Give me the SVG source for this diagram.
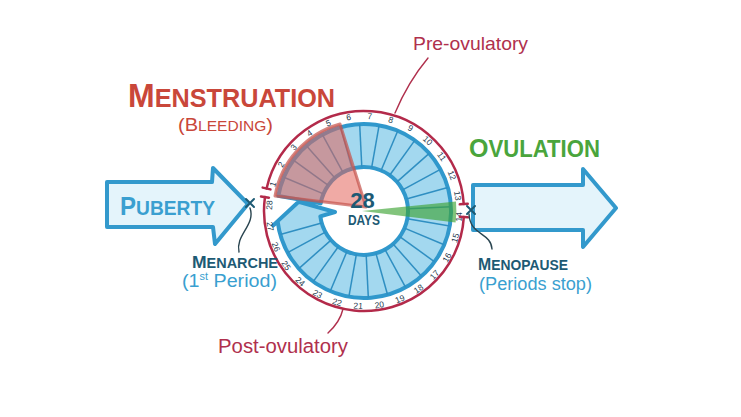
<svg xmlns="http://www.w3.org/2000/svg" width="741" height="417" viewBox="0 0 741 417">
<style>
.band{fill:#a3d8ef;stroke:#3098cc;stroke-width:4;stroke-linejoin:round}
.sep{stroke:#2f8fc2;stroke-width:1.5}
.num{font-family:"Liberation Sans",Arial,sans-serif;font-size:8.5px;fill:#1f3b4f;text-anchor:middle;dominant-baseline:central}
.redarc{fill:none;stroke:#b32a4a;stroke-width:2.5;stroke-linecap:round}
.arrow{fill:#e4f4fb;stroke:#3399cc;stroke-width:4;stroke-linejoin:round}
.lbl{font-family:"Liberation Sans",Arial,sans-serif}
.hd{font-weight:bold}
.lead{fill:none;stroke-width:1.4;stroke-linecap:round}
.xm{stroke:#1d5a74;stroke-width:2;stroke-linecap:round}
</style>
<rect width="741" height="417" fill="#ffffff"/>

<g id="puberty-arrow">
<path class="arrow" d="M107 182 L212 182 L213 168 L248 204 L215 244 L213 227 L107 227 Z"/>
<text class="lbl hd" x="120" y="215" fill="#3a9fd0" textLength="95" lengthAdjust="spacingAndGlyphs"><tspan font-size="25">P</tspan><tspan font-size="20">UBERTY</tspan></text>
</g>

<g id="menopause-arrow">
<path class="arrow" d="M473 185 L583 185 L583 169 L616 208 L583 247 L583 230 L473 230 Z"/>
</g>

<g id="cycle-ring">
<path class="band" d="M278.32 195.90 A87 87 0 1 1 277.65 221.60 L273.13 225.39 L298.64 201.81 L335.02 212.01 L320.33 216.36 A44 44 0 1 0 320.67 203.36 Z"/>
<g class="sep">
<line x1="408" y1="211" x2="451" y2="211" transform="rotate(202.857 364 211)"/>
<line x1="408" y1="211" x2="451" y2="211" transform="rotate(215.714 364 211)"/>
<line x1="408" y1="211" x2="451" y2="211" transform="rotate(228.571 364 211)"/>
<line x1="408" y1="211" x2="451" y2="211" transform="rotate(241.429 364 211)"/>
<line x1="408" y1="211" x2="451" y2="211" transform="rotate(254.286 364 211)"/>
<line x1="408" y1="211" x2="451" y2="211" transform="rotate(267.143 364 211)"/>
<line x1="408" y1="211" x2="451" y2="211" transform="rotate(280 364 211)"/>
<line x1="408" y1="211" x2="451" y2="211" transform="rotate(292.857 364 211)"/>
<line x1="408" y1="211" x2="451" y2="211" transform="rotate(305.714 364 211)"/>
<line x1="408" y1="211" x2="451" y2="211" transform="rotate(318.571 364 211)"/>
<line x1="408" y1="211" x2="451" y2="211" transform="rotate(331.429 364 211)"/>
<line x1="408" y1="211" x2="451" y2="211" transform="rotate(344.286 364 211)"/>
<line x1="408" y1="211" x2="451" y2="211" transform="rotate(357.143 364 211)"/>
<line x1="408" y1="211" x2="451" y2="211" transform="rotate(10 364 211)"/>
<line x1="408" y1="211" x2="451" y2="211" transform="rotate(22.857 364 211)"/>
<line x1="408" y1="211" x2="451" y2="211" transform="rotate(35.714 364 211)"/>
<line x1="408" y1="211" x2="451" y2="211" transform="rotate(48.571 364 211)"/>
<line x1="408" y1="211" x2="451" y2="211" transform="rotate(61.429 364 211)"/>
<line x1="408" y1="211" x2="451" y2="211" transform="rotate(74.286 364 211)"/>
<line x1="408" y1="211" x2="451" y2="211" transform="rotate(87.143 364 211)"/>
<line x1="408" y1="211" x2="451" y2="211" transform="rotate(100 364 211)"/>
<line x1="408" y1="211" x2="451" y2="211" transform="rotate(112.857 364 211)"/>
<line x1="408" y1="211" x2="451" y2="211" transform="rotate(125.714 364 211)"/>
<line x1="408" y1="211" x2="451" y2="211" transform="rotate(138.571 364 211)"/>
<line x1="408" y1="211" x2="451" y2="211" transform="rotate(151.429 364 211)"/>
<line x1="408" y1="211" x2="451" y2="211" transform="rotate(164.286 364 211)"/>
</g>
</g>

<g id="menstruation-wedge">
<path d="M366 207 L275 196 A91 91 0 0 1 340 124 Z" fill="#e3645b" fill-opacity="0.55" stroke="#c4524c" stroke-opacity="0.7" stroke-width="3" stroke-linejoin="round"/>
</g>

<g id="ovulation-wedge">
<path d="M362 211 L456 201.5 A92 92 0 0 1 455.6 222.5 Z" fill="#3fa535" fill-opacity="0.65"/>
</g>

<g id="day-numbers">
<text class="num" transform="rotate(196.43 364 211) translate(459 211) rotate(90)">1</text>
<text class="num" transform="rotate(209.29 364 211) translate(459 211) rotate(90)">2</text>
<text class="num" transform="rotate(222.14 364 211) translate(459 211) rotate(90)">3</text>
<text class="num" transform="rotate(235 364 211) translate(459 211) rotate(90)">4</text>
<text class="num" transform="rotate(247.86 364 211) translate(459 211) rotate(90)">5</text>
<text class="num" transform="rotate(260.71 364 211) translate(459 211) rotate(90)">6</text>
<text class="num" transform="rotate(273.57 364 211) translate(459 211) rotate(90)">7</text>
<text class="num" transform="rotate(286.43 364 211) translate(459 211) rotate(90)">8</text>
<text class="num" transform="rotate(299.29 364 211) translate(459 211) rotate(90)">9</text>
<text class="num" transform="rotate(312.14 364 211) translate(459 211) rotate(90)">10</text>
<text class="num" transform="rotate(325 364 211) translate(459 211) rotate(90)">11</text>
<text class="num" transform="rotate(337.86 364 211) translate(459 211) rotate(90)">12</text>
<text class="num" transform="rotate(350.71 364 211) translate(459 211) rotate(90)">13</text>
<text class="num" transform="rotate(3.57 364 211) translate(459 211) rotate(-90)">14</text>
<text class="num" transform="rotate(16.43 364 211) translate(459 211) rotate(-90)">15</text>
<text class="num" transform="rotate(29.29 364 211) translate(459 211) rotate(-90)">16</text>
<text class="num" transform="rotate(42.14 364 211) translate(459 211) rotate(-90)">17</text>
<text class="num" transform="rotate(55 364 211) translate(459 211) rotate(-90)">18</text>
<text class="num" transform="rotate(67.86 364 211) translate(459 211) rotate(-90)">19</text>
<text class="num" transform="rotate(80.71 364 211) translate(459 211) rotate(-90)">20</text>
<text class="num" transform="rotate(93.57 364 211) translate(459 211) rotate(-90)">21</text>
<text class="num" transform="rotate(106.43 364 211) translate(459 211) rotate(-90)">22</text>
<text class="num" transform="rotate(119.29 364 211) translate(459 211) rotate(-90)">23</text>
<text class="num" transform="rotate(132.14 364 211) translate(459 211) rotate(-90)">24</text>
<text class="num" transform="rotate(145 364 211) translate(459 211) rotate(-90)">25</text>
<text class="num" transform="rotate(157.86 364 211) translate(459 211) rotate(-90)">26</text>
<text class="num" transform="rotate(170.71 364 211) translate(459 211) rotate(-90)">27</text>
<text class="num" transform="rotate(183.57 364 211) translate(459 211) rotate(90)">28</text>
</g>

<g id="phase-arcs">
<path class="redarc" d="M266.56 188.5 A100 100 0 0 1 463.76 204.02"/>
<path class="redarc" d="M463.81 217.1 A100 100 0 1 1 264.97 197.08"/>
<g class="redarc">
<line x1="460" y1="211" x2="468" y2="211" transform="rotate(193 364 211)"/>
<line x1="460" y1="211" x2="468" y2="211" transform="rotate(356 364 211)"/>
<line x1="460" y1="211" x2="468" y2="211" transform="rotate(3.5 364 211)"/>
<line x1="460" y1="211" x2="468" y2="211" transform="rotate(188 364 211)"/>
</g>
</g>

<g id="center-label">
<text class="lbl hd" x="362.5" y="208" font-size="22" fill="#1d5a74" text-anchor="middle">28</text>
<text class="lbl hd" x="364" y="225" font-size="14" fill="#1d5a74" text-anchor="middle" textLength="32" lengthAdjust="spacingAndGlyphs">DAYS</text>
</g>

<g id="menstruation-label">
<text class="lbl hd" x="128" y="107" fill="#c9473a" textLength="207" lengthAdjust="spacingAndGlyphs"><tspan font-size="33">M</tspan><tspan font-size="26">ENSTRUATION</tspan></text>
<text class="lbl" x="178" y="131" fill="#c9473a" textLength="95" lengthAdjust="spacingAndGlyphs"><tspan font-size="18">(B</tspan><tspan font-size="14">LEEDING</tspan><tspan font-size="18">)</tspan></text>
</g>

<g id="ovulation-label">
<text class="lbl hd" x="469" y="157" fill="#4aa53c" textLength="131" lengthAdjust="spacingAndGlyphs"><tspan font-size="26">O</tspan><tspan font-size="23">VULATION</tspan></text>
</g>

<g id="menarche-label">
<text class="lbl hd" x="192" y="268" fill="#1d5a74" textLength="86" lengthAdjust="spacingAndGlyphs"><tspan font-size="17">M</tspan><tspan font-size="14">ENARCHE</tspan></text>
<text class="lbl" x="182" y="287" font-size="18" fill="#3a9fd0" textLength="95" lengthAdjust="spacingAndGlyphs">(1<tspan font-size="10" dy="-7">st</tspan><tspan dy="7"> Period)</tspan></text>
<path class="xm" d="M246 199 L254 207 M254 199 L246 207"/>
</g>

<g id="menopause-label">
<text class="lbl hd" x="478" y="270" fill="#1d5a74" textLength="90" lengthAdjust="spacingAndGlyphs"><tspan font-size="16">M</tspan><tspan font-size="14">ENOPAUSE</tspan></text>
<text class="lbl" x="479" y="290" font-size="18" fill="#3a9fd0" textLength="113" lengthAdjust="spacingAndGlyphs">(Periods stop)</text>
<path class="xm" d="M467 206 L475 214 M475 206 L467 214"/>
</g>

<g id="phase-labels">
<text class="lbl" x="413" y="50" font-size="19" fill="#b0304d" textLength="115" lengthAdjust="spacingAndGlyphs">Pre-ovulatory</text>
<text class="lbl" x="218" y="353" font-size="20" fill="#b0304d" textLength="130" lengthAdjust="spacingAndGlyphs">Post-ovulatory</text>
</g>

<g id="connectors">
<path class="lead" stroke="#b0304d" d="M395 113 Q408 82 428 58"/>
<path class="lead" stroke="#b0304d" d="M343 309 Q340 322 328 333"/>
<path class="lead" stroke="#2a4550" stroke-width="1" d="M250 208 C256 225 235 235 239 252"/>
<path class="lead" stroke="#2a4550" stroke-width="1" d="M469 214 C470 236 491 232 492 249"/>
</g>
</svg>
